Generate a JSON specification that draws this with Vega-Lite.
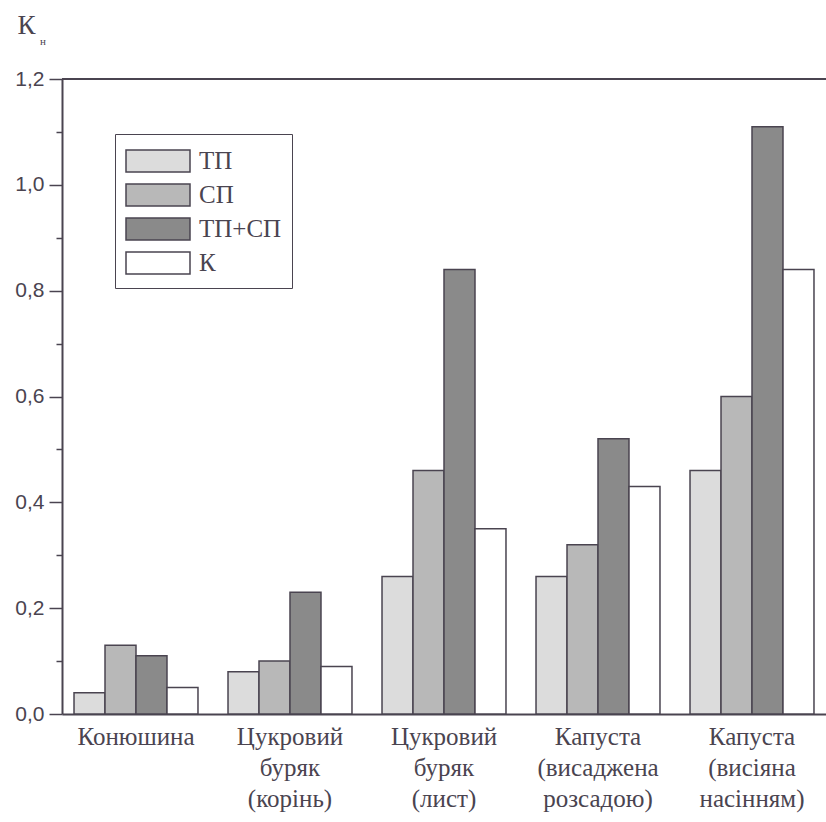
{
  "$schema": "https://vega.github.io/schema/vega-lite/v6.json",
  "width": 764,
  "height": 635,
  "autosize": {"type": "none"},
  "padding": {"left": 62, "top": 79, "right": 0, "bottom": 108},
  "background": "white",
  "config": {"view": {"stroke": null}},
  "title": {
    "text": "н",
    "anchor": "start",
    "frame": "group",
    "dx": -22,
    "offset": -36,
    "font": "Liberation Serif",
    "fontSize": 11,
    "fontWeight": "normal",
    "color": "#4a4450"
  },
  "data": {
    "values": [
      {"group": "Конюшина", "series": "ТП", "value": 0.04},
      {"group": "Конюшина", "series": "СП", "value": 0.13},
      {"group": "Конюшина", "series": "ТП+СП", "value": 0.11},
      {"group": "Конюшина", "series": "К", "value": 0.05},
      {"group": "Цукровий|буряк|(корінь)", "series": "ТП", "value": 0.08},
      {"group": "Цукровий|буряк|(корінь)", "series": "СП", "value": 0.10},
      {"group": "Цукровий|буряк|(корінь)", "series": "ТП+СП", "value": 0.23},
      {"group": "Цукровий|буряк|(корінь)", "series": "К", "value": 0.09},
      {"group": "Цукровий|буряк|(лист)", "series": "ТП", "value": 0.26},
      {"group": "Цукровий|буряк|(лист)", "series": "СП", "value": 0.46},
      {"group": "Цукровий|буряк|(лист)", "series": "ТП+СП", "value": 0.84},
      {"group": "Цукровий|буряк|(лист)", "series": "К", "value": 0.35},
      {"group": "Капуста|(висаджена|розсадою)", "series": "ТП", "value": 0.26},
      {"group": "Капуста|(висаджена|розсадою)", "series": "СП", "value": 0.32},
      {"group": "Капуста|(висаджена|розсадою)", "series": "ТП+СП", "value": 0.52},
      {"group": "Капуста|(висаджена|розсадою)", "series": "К", "value": 0.43},
      {"group": "Капуста|(висіяна|насінням)", "series": "ТП", "value": 0.46},
      {"group": "Капуста|(висіяна|насінням)", "series": "СП", "value": 0.60},
      {"group": "Капуста|(висіяна|насінням)", "series": "ТП+СП", "value": 1.11},
      {"group": "Капуста|(висіяна|насінням)", "series": "К", "value": 0.84}
    ]
  },
  "layer": [
    {
      "mark": {"type": "bar", "stroke": "#4a4450", "strokeWidth": 1.5},
      "encoding": {
        "x": {
          "field": "group",
          "type": "nominal",
          "sort": null,
          "scale": {"paddingInner": 0.195, "paddingOuter": 0.078},
          "axis": {
            "title": null,
            "ticks": false,
            "labelAngle": 0,
            "labelExpr": "split(datum.label, '|')",
            "labelFont": "Liberation Serif",
            "labelFontSize": 25,
            "labelLineHeight": 31,
            "labelPadding": 10,
            "labelBaseline": "top",
            "labelColor": "#4a4450",
            "domainColor": "#4a4450",
            "domainWidth": 2
          }
        },
        "xOffset": {
          "field": "series",
          "type": "nominal",
          "sort": ["ТП", "СП", "ТП+СП", "К"],
          "scale": {"paddingInner": 0, "paddingOuter": 0}
        },
        "y": {
          "field": "value",
          "type": "quantitative",
          "scale": {"domain": [0, 1.2], "nice": false},
          "axis": {
            "values": [0, 0.1, 0.2, 0.3, 0.4, 0.5, 0.6, 0.7, 0.8, 0.9, 1.0, 1.1, 1.2],
            "labelExpr": "abs(datum.value * 10 - 2 * round(datum.value * 5)) < 0.01 ? replace(format(datum.value, '.1f'), '.', ',') : ''",
            "tickSize": {"condition": {"test": "abs(datum.value * 10 - 2 * round(datum.value * 5)) < 0.01", "value": 13}, "value": 6},
            "tickWidth": 1.5,
            "tickColor": "#4a4450",
            "domainColor": "#4a4450",
            "domainWidth": 2,
            "grid": false,
            "labelFont": "Liberation Sans",
            "labelFontSize": 21,
            "labelColor": "#4a4450",
            "labelPadding": 5,
            "title": "К",
            "titleAngle": 0,
            "titleX": -45,
            "titleY": -46,
            "titleAlign": "left",
            "titleBaseline": "alphabetic",
            "titleFont": "Liberation Serif",
            "titleFontSize": 27,
            "titleFontWeight": "normal",
            "titleColor": "#4a4450"
          }
        },
        "fill": {
          "field": "series",
          "type": "nominal",
          "sort": ["ТП", "СП", "ТП+СП", "К"],
          "scale": {"domain": ["ТП", "СП", "ТП+СП", "К"], "range": ["#dcdcdc", "#b8b8b8", "#8a8a8a", "#ffffff"]},
          "legend": {
            "title": null,
            "orient": "none",
            "legendX": 53,
            "legendY": 55,
            "symbolType": "M-1,-0.69H3V0.69H-1Z",
            "symbolSize": 1024,
            "symbolStrokeColor": "#4a4450",
            "symbolStrokeWidth": 1.5,
            "symbolOpacity": 1,
            "labelFont": "Liberation Serif",
            "labelFontSize": 25,
            "labelColor": "#4a4450",
            "labelOffset": 40,
            "labelExpr": "datum.label + '\u00a0\u00a0\u00a0'",
            "rowPadding": 2,
            "padding": 10,
            "strokeColor": "#4a4450",
            "fillColor": "#ffffff"
          }
        }
      }
    },
    {
      "mark": {"type": "rule", "stroke": "#4a4450", "strokeWidth": 2},
      "encoding": {"y": {"datum": 1.2}}
    }
  ]
}
